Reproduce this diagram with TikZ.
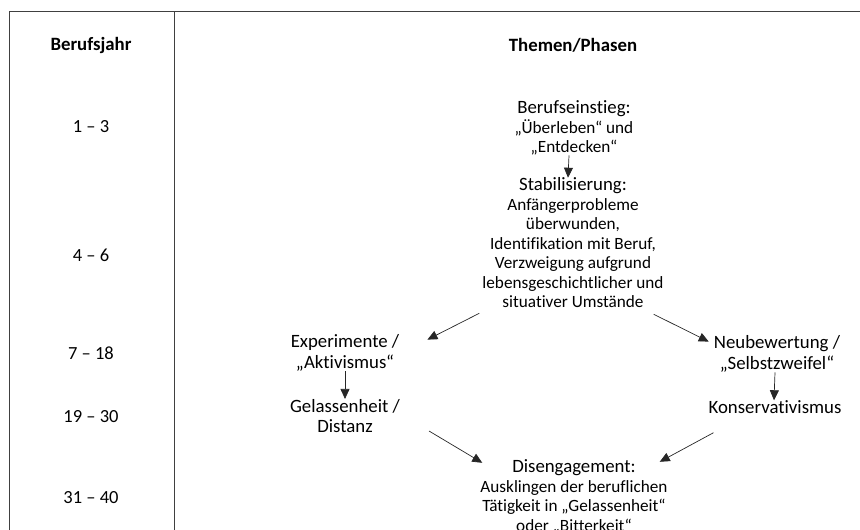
\documentclass[tikz,border=0pt]{standalone}
\usepackage{fontspec}
\setmainfont{Carlito}[Ligatures={TeX,NoCommon}]
\usepackage{tikz}
\usetikzlibrary{arrows.meta,positioning}

\newcommand{\titel}{\fontsize{18.8}{20.5}\selectfont}

\begin{document}
\begin{tikzpicture}[x=1pt,y=-1pt,
  tabelle/.style={draw=black!75,line width=0.8pt},
  kopf/.style={font=\fontsize{18.8}{21}\selectfont\bfseries},
  jahr/.style={font=\fontsize{18.5}{21}\selectfont},
  phase/.style={align=center,inner sep=0pt,font=\fontsize{17.2}{19.5}\selectfont},
  pfeil/.style={draw=black!85,line width=0.7pt,-{Triangle[length=10pt,width=9pt]}}]

\useasboundingbox (0,0) rectangle (860,530);
\clip (0,0) rectangle (860,530);

\draw[tabelle] (9,530) -- (9,11) -- (860,11);
\draw[tabelle] (174,11) -- (174,530);

\node[kopf] (k1) at (91,45) {Berufsjahr};
\node[kopf] (k2) at (573,45) {Themen/Phasen};

\node[jahr] (j1) at (91,127) {1 – 3};
\node[jahr] (j2) at (91,255) {4 – 6};
\node[jahr] (j3) at (91,353) {7 – 18};
\node[jahr] (j4) at (91,417) {19 – 30};
\node[jahr] (j5) at (91,498) {31 – 40};

\node[phase] (1) at (574,128) {{\titel Berufseinstieg:}\\ „Überleben“ und\\ „Entdecken“};
\node[phase] (2) at (573,243) {{\titel Stabilisierung:}\\ Anfängerprobleme\\ überwunden,\\ Identifikation mit Beruf,\\ Verzweigung aufgrund\\ lebensgeschichtlicher und\\ situativer Umstände};
\node[phase,font=\titel] (3) at (345,353) {Experimente /\\ „Aktivismus“};
\node[phase,font=\titel] (4) at (345,416) {Gelassenheit /\\ Distanz};
\node[phase,font=\titel] (5) at (777,354) {Neubewertung /\\ „Selbstzweifel“};
\node[phase,font=\titel] (6) at (775,407) {Konservativismus};
\node[phase] (7) at (574,497) {{\titel Disengagement:}\\ Ausklingen der beruflichen\\ Tätigkeit in „Gelassenheit“\\ oder „Bitterkeit“};

\draw[pfeil] ([xshift=-5pt]1.south) -- ([xshift=-5pt]2.north);
\draw[pfeil] ([shift={(-3pt,-5pt)}]2.south west) -- ([shift={(28pt,-5pt)}]3.north east);
\draw[pfeil] ([shift={(-10pt,-6pt)}]2.south east) -- ([shift={(-5pt,-6pt)}]5.north west);
\draw[pfeil] (3.south) -- (4.north);
\draw[pfeil] ([xshift=-2pt]5.south) -- ([xshift=-1pt]6.north);
\draw[pfeil] ([shift={(29pt,2pt)}]4.south east) -- ([shift={(2pt,-3pt)}]7.north west);
\draw[pfeil] ([shift={(5pt,-19pt)}]6.south west) -- ([shift={(-8pt,-2pt)}]7.north east);

\end{tikzpicture}
\end{document}
